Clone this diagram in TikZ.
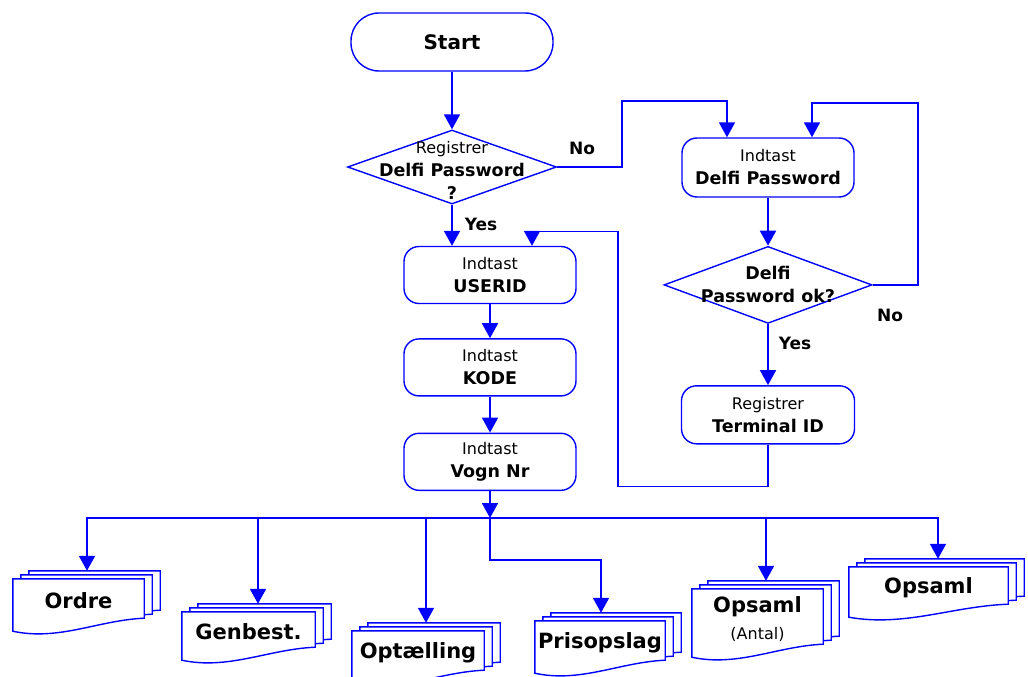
\documentclass[tikz,border=0pt]{standalone}
\usepackage{fontspec}
\setmainfont{DejaVu Sans}
\usetikzlibrary{arrows.meta, positioning, shapes.geometric, calc, backgrounds}

% bold second line in the boxes
\newcommand{\bt}[1]{{\fontsize{17.5}{23}\selectfont\bfseries #1}}
% text that may stick out of a diamond
\newcommand{\dtxt}[2][-6pt]{\smash{\makebox[0pt]{\raisebox{#1}{\begin{tabular}{@{}c@{}}#2\end{tabular}}}}}
% three stacked pages behind a document node
\newcommand{\docstack}[2][8.5pt]{%
  \coordinate (#2-in) at ($(#2.north)+(#1,8pt)$);
  \begin{pgfonlayer}{background}
  \foreach \k in {2,1,0}{%
    \draw[page] ($(#2.north west)+({\k*8pt},{\k*4pt})$)
      -- ($(#2.north east)+({\k*8pt},{\k*4pt})$)
      -- ($(#2.south east)+({\k*8pt},{\k*4pt+5pt})$)
      .. controls ($(#2.south west)!0.65!(#2.south east)+({\k*8pt},{\k*4pt+3pt})$)
      and ($(#2.south west)!0.35!(#2.south east)+({\k*8pt},{\k*4pt-18pt})$)
      .. ($(#2.south west)+({\k*8pt},{\k*4pt-8pt})$) -- cycle;
  }
  \end{pgfonlayer}%
}

\begin{document}
\begin{tikzpicture}[
  x=1pt, y=-1pt,
  node distance=34pt,
  >={Triangle[width=16pt,length=15pt]},
  font=\fontsize{16}{23}\selectfont,
  conn/.style={draw=blue, line width=1.8pt},
  term/.style={rectangle, rounded corners=28pt, draw=blue, line width=1.4pt,
    minimum width=202pt, minimum height=58pt,
    font=\fontsize{20}{24}\selectfont\bfseries},
  proc/.style={rectangle, rounded corners=15pt, draw=blue, line width=1.4pt,
    align=center, inner sep=1pt,
    minimum width=172pt, minimum height=57pt},
  decide/.style={diamond, draw=blue, line width=1.4pt, inner sep=0pt,
    minimum width=209pt, minimum height=74pt},
  docs/.style={rectangle, align=center, inner sep=0pt, minimum height=44pt,
    font=\fontsize{21}{27}\selectfont\bfseries},
  page/.style={draw=blue, line width=1.4pt, fill=white},
  lbl/.style={font=\fontsize{17}{20}\selectfont\bfseries},
]
\useasboundingbox (0,0) rectangle (1028,677);

% --- left column ---
\node[term] (start) at (452,42) {Start};
\node[decide] (q1) at (452,167) {\dtxt[-9pt]{Registrer\\ \bt{Delfi Password}\\ \bt{?}}};
\node[proc] (userid) at (490,275) {Indtast\\ \bt{USERID}};
\node[proc, below=of userid] (kode) {Indtast\\ \bt{KODE}};
\node[proc, below=36pt of kode] (vogn) {Indtast\\ \bt{Vogn Nr}};

% --- right column ---
\node[proc, minimum height=59pt] (dpw) at (768,167.5) {Indtast\\ \bt{Delfi Password}};
\node[decide, minimum width=208pt, minimum height=77pt, below=48pt of dpw] (q2)
  {\dtxt{\bt{Delfi}\\ \bt{Password ok?}}};
\node[proc, minimum width=173pt, minimum height=58pt, below=61pt of q2] (termid)
  {Registrer\\ \bt{Terminal ID}};

% --- answers ---
\node[lbl] (no1) at (582,148) {No};
\node[lbl] (yes1) at (481,224) {Yes};
\node[lbl] (no2) at (890,315) {No};
\node[lbl] (yes2) at (795,343) {Yes};

% --- documents ---
\coordinate (bus) at ($(vogn.south)+(0,27)$);
\node[docs, minimum width=131pt] (ordre) at (78.5,601) {Ordre};
\node[docs, minimum width=133pt, minimum height=40pt] (genbest) at (248.5,632) {Genbest.};
\node[docs, minimum width=132pt] (optael) at (418,653) {Optælling};
\node[docs, minimum width=130pt] (pris) at (600,643) {Prisopslag};
\node[docs, minimum width=131pt, minimum height=60pt] (antal) at (757.5,619)
  {Opsaml\\ {\fontsize{16}{20}\selectfont\mdseries (Antal)}};
\node[docs, minimum width=159pt, minimum height=42pt] (opsaml) at (928.5,588) {Opsaml};

\docstack{ordre}
\docstack[9.5pt]{genbest}
\docstack[8pt]{optael}
\docstack[1pt]{pris}
\docstack{antal}
\docstack[9.5pt]{opsaml}

% --- arrows ---
\draw[conn,->] (start) -- (q1);
\draw[conn,->] (q1.south) -- (q1.south |- userid.north);
\draw[conn,->] (q1.east) -- ++(65,0) -- ++(0,-66) -| ([xshift=-41pt]dpw.north);
\draw[conn,->] (dpw) -- (q2);
\draw[conn,->] (q2.east) -- ++(45,0) -- ++(0,-182) -| ([xshift=44pt]dpw.north);
\draw[conn,->] (q2) -- (termid);
\draw[conn,->] (termid.south) -- ++(0,42) -| ++(-150,-255) -| ([xshift=42pt]userid.north);

\draw[conn,->] (userid) -- (kode);
\draw[conn,->] (kode) -- (vogn);
\draw[conn,->] (vogn) -- (bus);

\draw[conn,->] (bus) -| (ordre-in);
\draw[conn,->] (bus) -| (genbest-in);
\draw[conn,->] (bus) -| (optael-in);
\draw[conn,->] (bus) -- ++(0,42) -| (pris-in);
\draw[conn,->] (bus) -| (antal-in);
\draw[conn,->] (bus) -| (opsaml-in);

\end{tikzpicture}
\end{document}
